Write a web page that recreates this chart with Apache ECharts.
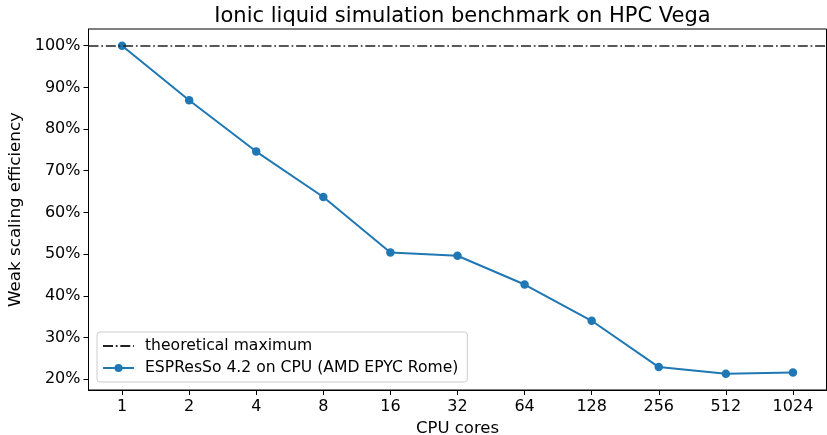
<!DOCTYPE html>
<html>
<head>
<meta charset="utf-8">
<script src="https://cdn.jsdelivr.net/npm/echarts@6/dist/echarts.min.js"></script>
<style>
  html, body { margin: 0; padding: 0; background: #fff; }
  #main { width: 827px; height: 435px; }
</style>
</head>
<body>
<div id="main"></div>
<script>
const cores = ['1', '2', '4', '8', '16', '32', '64', '128', '256', '512', '1024'];
const efficiency = [100, 86.9, 74.6, 63.7, 50.4, 49.6, 42.7, 34.0, 22.9, 21.3, 21.6];
const yTicks = [20, 30, 40, 50, 60, 70, 80, 90, 100];
const theoreticalMax = 100;

const chart = echarts.init(document.getElementById('main'));
const font = 'DejaVu Sans';
const dashDot = [10, 2.8, 1.7, 2.8];

const option = {
  animation: false,
  textStyle: { fontFamily: font },
  title: {
    text: 'Ionic liquid simulation benchmark on HPC Vega',
    left: 457.5,
    textAlign: 'center',
    top: 1,
    textStyle: { fontFamily: font, fontSize: 21, fontWeight: 'normal', color: '#000' }
  },
  grid: {
    left: 88.5, right: 0.5, top: 29, bottom: 45,
    outerBoundsMode: 'none',
    containLabel: false,
    show: true, borderColor: '#000', borderWidth: 1, backgroundColor: 'transparent'
  },
  legend: {
    orient: 'vertical',
    left: 97, top: 332,
    padding: [6, 9, 6, 5],
    itemGap: 6,
    itemWidth: 31,
    itemHeight: 10,
    backgroundColor: '#fff',
    borderColor: '#ccc',
    borderWidth: 1,
    borderRadius: 3,
    textStyle: { fontFamily: font, fontSize: 15.6, color: '#000', lineHeight: 16, padding: [0, 0, 0, 6] },
    data: [
      { name: 'theoretical maximum', itemStyle: { opacity: 0 } },
      { name: 'ESPResSo 4.2 on CPU (AMD EPYC Rome)' }
    ]
  },
  xAxis: {
    type: 'category',
    data: cores,
    boundaryGap: true,
    name: 'CPU cores',
    nameLocation: 'middle',
    nameGap: 26,
    nameTextStyle: { fontFamily: font, fontSize: 16.5, color: '#000' },
    axisLine: { show: true, lineStyle: { color: '#000', width: 1 } },
    axisTick: { show: true, alignWithLabel: true, length: 5, lineStyle: { color: '#000' } },
    axisLabel: { fontFamily: font, fontSize: 16, color: '#000', margin: 9 },
    splitLine: { show: false }
  },
  yAxis: {
    type: 'value',
    min: 17.4,
    max: 104.0,
    name: 'Weak scaling efficiency',
    nameLocation: 'middle',
    nameGap: 62,
    nameTextStyle: { fontFamily: font, fontSize: 16.7, color: '#000' },
    axisLine: { show: true, lineStyle: { color: '#000', width: 1 } },
    axisTick: { show: true, length: 5, inside: false, customValues: yTicks, lineStyle: { color: '#000' } },
    axisLabel: {
      fontFamily: font, fontSize: 16, color: '#000', margin: 8,
      customValues: yTicks,
      formatter: v => v + '%'
    },
    splitLine: { show: false }
  },
  series: [
    {
      name: 'theoretical maximum',
      type: 'line',
      data: [],
      symbol: 'none',
      color: '#222',
      lineStyle: { color: '#222', width: 1.7, type: dashDot },
      markLine: {
        silent: true,
        symbol: ['none', 'none'],
        label: { show: false },
        emphasis: { disabled: true },
        lineStyle: { color: '#222', width: 1.7, type: dashDot },
        data: [{ yAxis: theoreticalMax }]
      },
      z: 1
    },
    {
      name: 'ESPResSo 4.2 on CPU (AMD EPYC Rome)',
      type: 'line',
      data: efficiency,
      symbol: 'circle',
      symbolSize: 8.5,
      color: '#1f77b4',
      lineStyle: { color: '#1f77b4', width: 2 },
      itemStyle: { color: '#1f77b4' },
      emphasis: { disabled: true },
      z: 3
    }
  ]
};

chart.setOption(option);
</script>
</body>
</html>
